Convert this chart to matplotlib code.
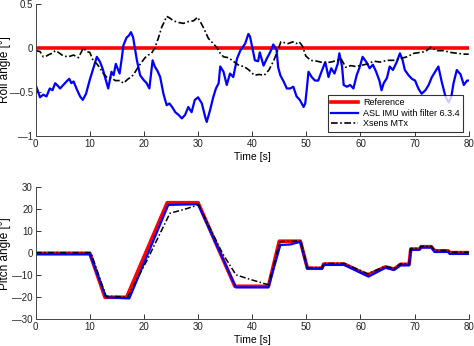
import numpy as np
import matplotlib

matplotlib.use("Agg")
import matplotlib.pyplot as plt

plt.rcParams["font.family"] = ["Liberation Sans", "DejaVu Sans"]
plt.rcParams["font.size"] = 7

RED = "#ff0000"
BLUE = "#0000ff"
DASHDOT = (0, (4, 1.5, 1, 1.5))

# Roll: reference is level for the whole run
roll_ref_t = [0, 80]
roll_ref = [0, 0]

# Roll: ASL IMU estimate
roll_asl_t = [0, 0.8, 1.4, 2.0, 2.6, 3.1, 3.6, 4.1, 4.5, 5.1, 5.7, 6.2, 6.6, 7.0, 7.6,
              8.2, 8.7, 9.3, 10.0, 10.7, 11.3, 11.9, 12.4, 12.8, 13.4, 14.0, 14.4,
              14.8, 15.5, 15.9, 16.2, 16.8, 17.2, 17.6, 18.0, 18.7, 19.3, 19.9, 20.5,
              21.0, 21.6, 22.0, 22.5, 23.0, 23.6, 24.2, 24.7, 25.2, 25.8, 26.4, 27.0,
              27.6, 28.2, 28.8, 29.4, 30.0, 30.7, 31.3, 31.6, 32.2, 32.8, 33.3, 33.8,
              34.1, 34.7, 35.3, 35.9, 36.5, 37.2, 37.8, 38.7, 39.3, 39.6, 40.2, 40.5,
              41.1, 41.4, 42.1, 42.7, 43.3, 43.9, 44.5, 44.8, 45.2, 45.8, 46.4, 47.0,
              47.6, 48.2, 48.8, 49.5, 49.8, 50.1, 50.4, 51.0, 51.6, 52.2, 52.8, 53.5,
              54.1, 54.6, 55.2, 55.8, 56.1, 56.6, 56.9, 57.5, 58.1, 58.7, 59.3, 59.9,
              60.4, 61.1, 61.7, 62.3, 62.9, 63.5, 63.9, 64.3, 64.9, 65.4, 66.0, 66.7,
              67.3, 67.8, 68.2, 68.9, 69.5, 70.1, 70.7, 71.3, 72.0, 72.6, 73.2, 73.8,
              74.4, 75.0, 75.7, 76.3, 76.8, 77.2, 77.8, 78.5, 79.1, 79.7, 80.0]
roll_asl = [-0.42, -0.56, -0.53, -0.55, -0.46, -0.48, -0.40, -0.43, -0.46, -0.42, -0.38,
            -0.35, -0.40, -0.38, -0.47, -0.55, -0.59, -0.52, -0.36, -0.22, -0.10, -0.16,
            -0.24, -0.33, -0.46, -0.27, -0.31, -0.18, -0.29, -0.12, 0.03, 0.12, 0.14,
            0.18, 0.12, -0.14, -0.31, -0.36, -0.40, -0.46, -0.14, -0.21, -0.26, -0.33,
            -0.52, -0.65, -0.63, -0.67, -0.73, -0.76, -0.80, -0.76, -0.67, -0.73, -0.59,
            -0.56, -0.63, -0.78, -0.84, -0.71, -0.56, -0.46, -0.40, -0.21, -0.27, -0.42,
            -0.29, -0.33, -0.12, -0.03, 0.05, 0.16, 0.13, -0.05, -0.14, -0.15, -0.05,
            -0.20, -0.12, -0.05, 0.04, -0.02, -0.22, -0.31, -0.38, -0.46, -0.46, -0.44,
            -0.55, -0.59, -0.67, -0.63, -0.46, -0.27, -0.33, -0.37, -0.37, -0.27, -0.16,
            -0.33, -0.23, -0.29, -0.18, -0.06, -0.21, -0.42, -0.44, -0.42, -0.46, -0.31,
            -0.21, -0.10, -0.16, -0.23, -0.19, -0.27, -0.37, -0.48, -0.40, -0.34, -0.21,
            -0.25, -0.16, -0.06, -0.14, -0.25, -0.31, -0.35, -0.37, -0.46, -0.52, -0.48,
            -0.42, -0.33, -0.27, -0.21, -0.38, -0.55, -0.62, -0.55, -0.40, -0.25, -0.30,
            -0.42, -0.37, -0.37]

# Roll: Xsens MTx estimate
roll_xs_t = [0, 0.8, 1.4, 2.0, 2.6, 3.1, 3.6, 4.2, 5.1, 6.0, 7.0, 7.9, 8.8, 9.4, 10.0,
             10.6, 11.3, 11.9, 12.5, 13.1, 14.0, 14.7, 15.6, 16.2, 17.1, 17.7, 18.4,
             19.0, 19.6, 20.2, 20.8, 21.4, 22.0, 22.7, 23.3, 23.7, 24.2, 24.8, 25.4,
             26.4, 27.3, 28.2, 29.2, 29.9, 30.4, 31.0, 31.9, 32.8, 33.4, 34.1, 34.7,
             35.6, 36.5, 37.6, 38.5, 39.4, 40.4, 41.3, 42.2, 43.1, 44.0, 44.7, 45.3,
             46.0, 46.6, 47.5, 48.1, 48.7, 49.3, 49.9, 50.8, 52.0, 53.3, 54.5, 55.8,
             56.4, 57.3, 58.2, 59.1, 60.0, 61.3, 62.5, 63.7, 64.9, 66.2, 67.4, 68.6,
             69.9, 71.1, 72.0, 73.0, 74.2, 75.4, 76.6, 77.9, 79.1, 80.0]
roll_xs = [-0.03, -0.04, -0.10, -0.09, -0.07, -0.06, -0.03, -0.05, -0.09, -0.10, -0.08,
           -0.11, 0.00, -0.04, -0.05, -0.14, -0.18, -0.23, -0.29, -0.33, -0.34, -0.37,
           -0.37, -0.40, -0.35, -0.33, -0.27, -0.21, -0.16, -0.11, -0.08, -0.06, 0.00,
           0.12, 0.24, 0.29, 0.36, 0.34, 0.31, 0.29, 0.28, 0.30, 0.31, 0.35, 0.30, 0.23,
           0.11, 0.05, 0.01, -0.06, -0.10, -0.11, -0.15, -0.20, -0.21, -0.25, -0.31,
           -0.30, -0.31, -0.25, -0.14, -0.03, 0.07, 0.06, 0.05, 0.07, 0.05, 0.07, 0.02,
           -0.09, -0.14, -0.15, -0.17, -0.16, -0.14, -0.12, -0.22, -0.20, -0.21, -0.20,
           -0.18, -0.15, -0.16, -0.14, -0.14, -0.12, -0.10, -0.06, -0.05, -0.04, 0.01,
           -0.03, -0.03, -0.05, -0.06, -0.07, -0.07]

# Pitch: reference trajectory
pitch_ref_t = [0, 10.0, 12.8, 16.8, 24.3, 30.0, 36.8, 43.0, 45.0, 48.9, 50.2, 52.9,
               53.2, 57.0, 61.3, 64.6, 65.3, 66.2, 67.4, 69.0, 69.3, 70.9, 71.2, 73.1,
               73.7, 76.2, 76.5, 80.0]
pitch_ref = [0, 0, -20, -20, 23, 23, -15, -15, 5.5, 5.5, -6.8, -6.8, -4.9, -4.9, -9.9,
             -6.2, -6.6, -7.2, -5.0, -5.0, 1.9, 1.9, 3.0, 3.0, 1.1, 1.1, 0.3, 0.3]

# Pitch: ASL IMU estimate
pitch_asl_t = [0, 10.0, 13.0, 17.3, 24.5, 30.0, 37.0, 43.0, 45.2, 47.0, 48.9, 50.2,
               52.9, 53.2, 57.0, 61.5, 64.6, 65.3, 66.2, 67.4, 69.0, 69.3, 70.9, 71.2,
               73.1, 73.7, 76.2, 76.5, 80.0]
pitch_asl = [-0.5, -0.5, -20, -20.5, 22, 22.3, -15.5, -15.5, 3.8, 4.0, 5.2, -7.0,
             -7.0, -5.3, -5.3, -10.6, -6.6, -7.0, -7.6, -5.5, -5.5, 1.6, 1.6, 2.6, 2.6,
             0.6, 0.6, -0.3, -0.3]

# Pitch: Xsens MTx estimate
pitch_xs_t = [0, 10.2, 13.0, 17.0, 20.6, 24.8, 27.5, 30.1, 34.5, 37.0, 39.8, 43.0,
              45.1, 49.0, 50.2, 52.9, 53.2, 57.0, 61.4, 64.6, 65.3, 66.2, 67.4, 69.0,
              69.3, 70.9, 71.2, 73.1, 73.7, 76.2, 76.5, 80.0]
pitch_xs = [0.3, 0.3, -19.5, -19.8, -3, 18.2, 20.0, 22.0, 0, -9.8, -12, -14.3, 5.3,
            5.6, -6.5, -6.5, -4.6, -4.6, -9.3, -5.9, -6.3, -6.9, -4.8, -4.8, 2.2, 2.2,
            3.2, 3.2, 1.3, 1.3, 0.5, 0.5]

roll_ticks = [-1, -0.5, 0, 0.5]
pitch_ticks = [-30, -20, -10, 0, 10, 20, 30]


def tick_text(v):
    # long dash for negatives, the way the plotting tool of the paper drew them
    s = f"{abs(v):g}"
    return "\u2014" + s if v < 0 else s


def style_axis(ax, yticks):
    for side in ("top", "right"):
        ax.spines[side].set_visible(False)
    for side in ("left", "bottom"):
        ax.spines[side].set_color("#444444")
        ax.spines[side].set_linewidth(0.7)
    ax.tick_params(direction="in", length=3.5, width=0.7, colors="#333333",
                   labelcolor="#222222", labelsize=7, pad=2)
    ax.set_xlim(0, 80)
    ax.set_xticks(np.arange(0, 81, 10))
    ax.set_yticks(yticks)
    ax.set_yticklabels([tick_text(v) for v in yticks])
    ax.set_xlabel("Time [s]", fontsize=7.5, labelpad=2)
    ax.yaxis.set_label_coords(-0.057, 0.5)


fig = plt.figure(figsize=(4.74, 3.46), dpi=100)
ax1 = fig.add_axes([0.0753, 0.6069, 0.9135, 0.3815])
ax2 = fig.add_axes([0.0753, 0.0772, 0.9135, 0.3815])

ax1.plot(roll_ref_t, roll_ref, color=RED, lw=2.6, label="Reference")
ax1.plot(roll_asl_t, roll_asl, color=BLUE, lw=1.6, label="ASL IMU with filter 6.3.4")
ax1.plot(roll_xs_t, roll_xs, color="black", lw=1.2, ls=DASHDOT, label="Xsens MTx")
ax1.set_ylim(-1, 0.5)
ax1.set_ylabel("Roll angle [°]", fontsize=8.5)
style_axis(ax1, roll_ticks)

leg = ax1.legend(loc="lower right", bbox_to_anchor=(0.987, 0.033), borderaxespad=0,
                 fontsize=6.5, frameon=True, fancybox=False, handlelength=3.0,
                 labelspacing=0.2, borderpad=0.35, handletextpad=0.6)
leg.get_frame().set_edgecolor("black")
leg.get_frame().set_linewidth(0.8)

ax2.plot(pitch_ref_t, pitch_ref, color=RED, lw=2.6)
ax2.plot(pitch_asl_t, pitch_asl, color=BLUE, lw=1.6)
ax2.plot(pitch_xs_t, pitch_xs, color="black", lw=1.1, ls=DASHDOT)
ax2.set_ylim(-30, 30)
ax2.set_ylabel("Pitch angle [°]", fontsize=8.5)
style_axis(ax2, pitch_ticks)

fig.savefig("out.png", dpi=100, facecolor="white")
